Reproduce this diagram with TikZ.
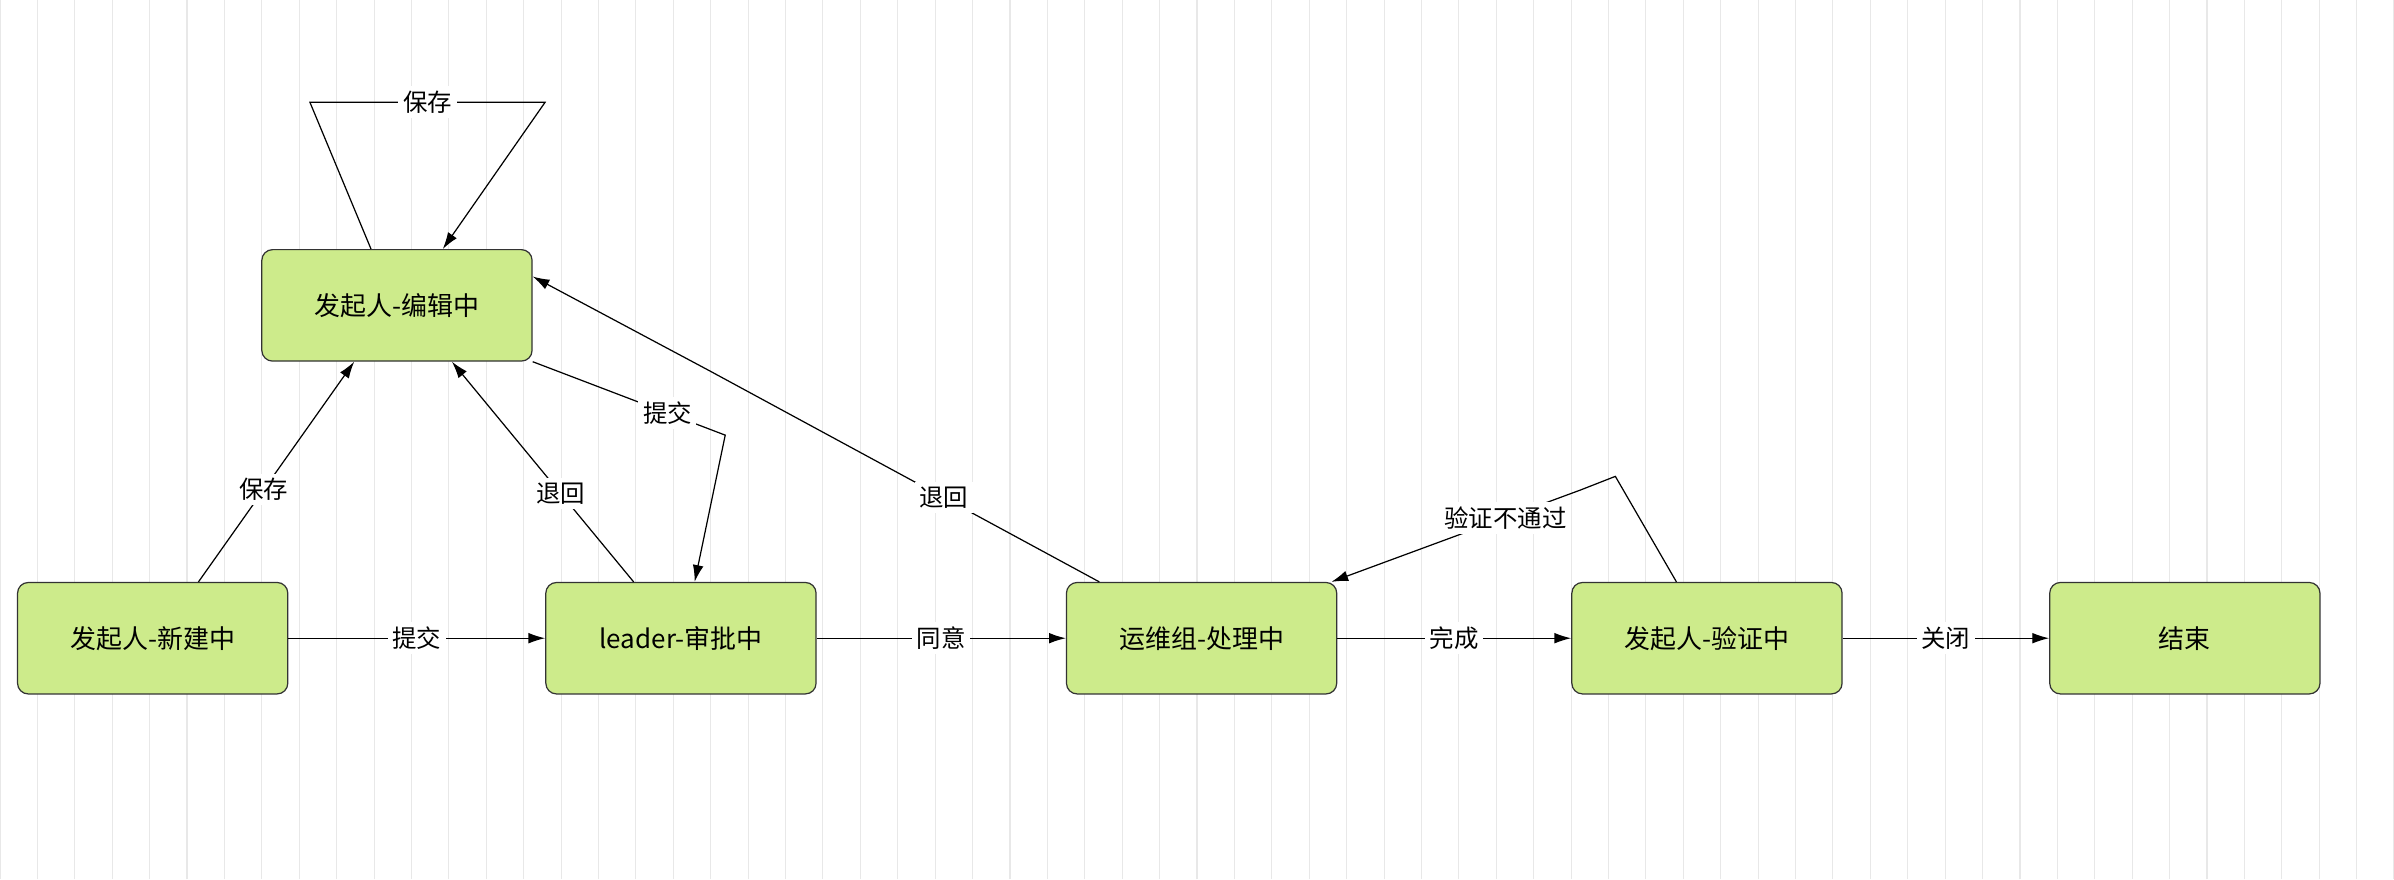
\documentclass[tikz,border=0pt]{standalone}
\usepackage{fontspec}
\setmainfont{Noto Sans CJK SC}
\usetikzlibrary{arrows.meta}
\definecolor{boxfill}{HTML}{CDEB8B}
\begin{document}
\begin{tikzpicture}[x=1pt,y=-1pt,
  state/.style={draw=black!80,fill=boxfill,rounded corners=7pt,minimum width=177pt,minimum height=73pt,line width=0.8pt,font=\fontsize{17}{20}\selectfont},
  lbl/.style={fill=white,inner sep=3pt,font=\fontsize{16}{19}\selectfont},
  edge/.style={draw,line width=0.8pt,-{Latex[length=11pt,width=7pt]}}]
\fill[white] (0,0) rectangle (1568,576);
\useasboundingbox (0,0) rectangle (1568,576);
\draw[black!9,line width=0.7pt] (0,0) grid[step=24.5] (1568,576);
\node[state] (edit) at (260,200) {发起人-编辑中};
\node[state] (new) at (100,418) {发起人-新建中};
\node[state] (lead) at (446,418) {leader-审批中};
\node[state] (ops) at (787,418) {运维组-处理中};
\node[state] (ver) at (1118,418) {发起人-验证中};
\node[state] (end) at (1431,418) {结束};
\draw[edge] (new) -- node[lbl]{提交} (lead);
\draw[edge] (lead) -- node[lbl]{同意} (ops);
\draw[edge] (ops) -- node[lbl]{完成} (ver);
\draw[edge] (ver) -- node[lbl]{关闭} (end);
\draw[edge] ([xshift=30pt]new.north) -- node[lbl,pos=0.42]{保存} ([xshift=-28pt]edit.south);
\draw[edge] ([xshift=-31pt]lead.north) -- node[lbl,pos=0.4]{退回} ([xshift=36pt]edit.south);
\draw[edge] (edit.south east) -- node[lbl,pos=0.7]{提交} (475,285) -- ([xshift=9pt]lead.north);
\draw[edge] ([xshift=-67pt]ops.north) -- node[lbl,pos=0.4]{退回} (465,243) -- ([yshift=-18pt]edit.north east);
\draw[edge] ([xshift=-17pt]edit.north) -- (203,67) -- node[lbl]{保存} (357,67) -- ([xshift=30pt]edit.north);
\draw[edge] ([xshift=-20pt]ver.north) -- (1058,312) -- (1035,321) -- node[lbl,pos=0.3]{验证不通过} ([xshift=85pt]ops.north);
\end{tikzpicture}
\end{document}
